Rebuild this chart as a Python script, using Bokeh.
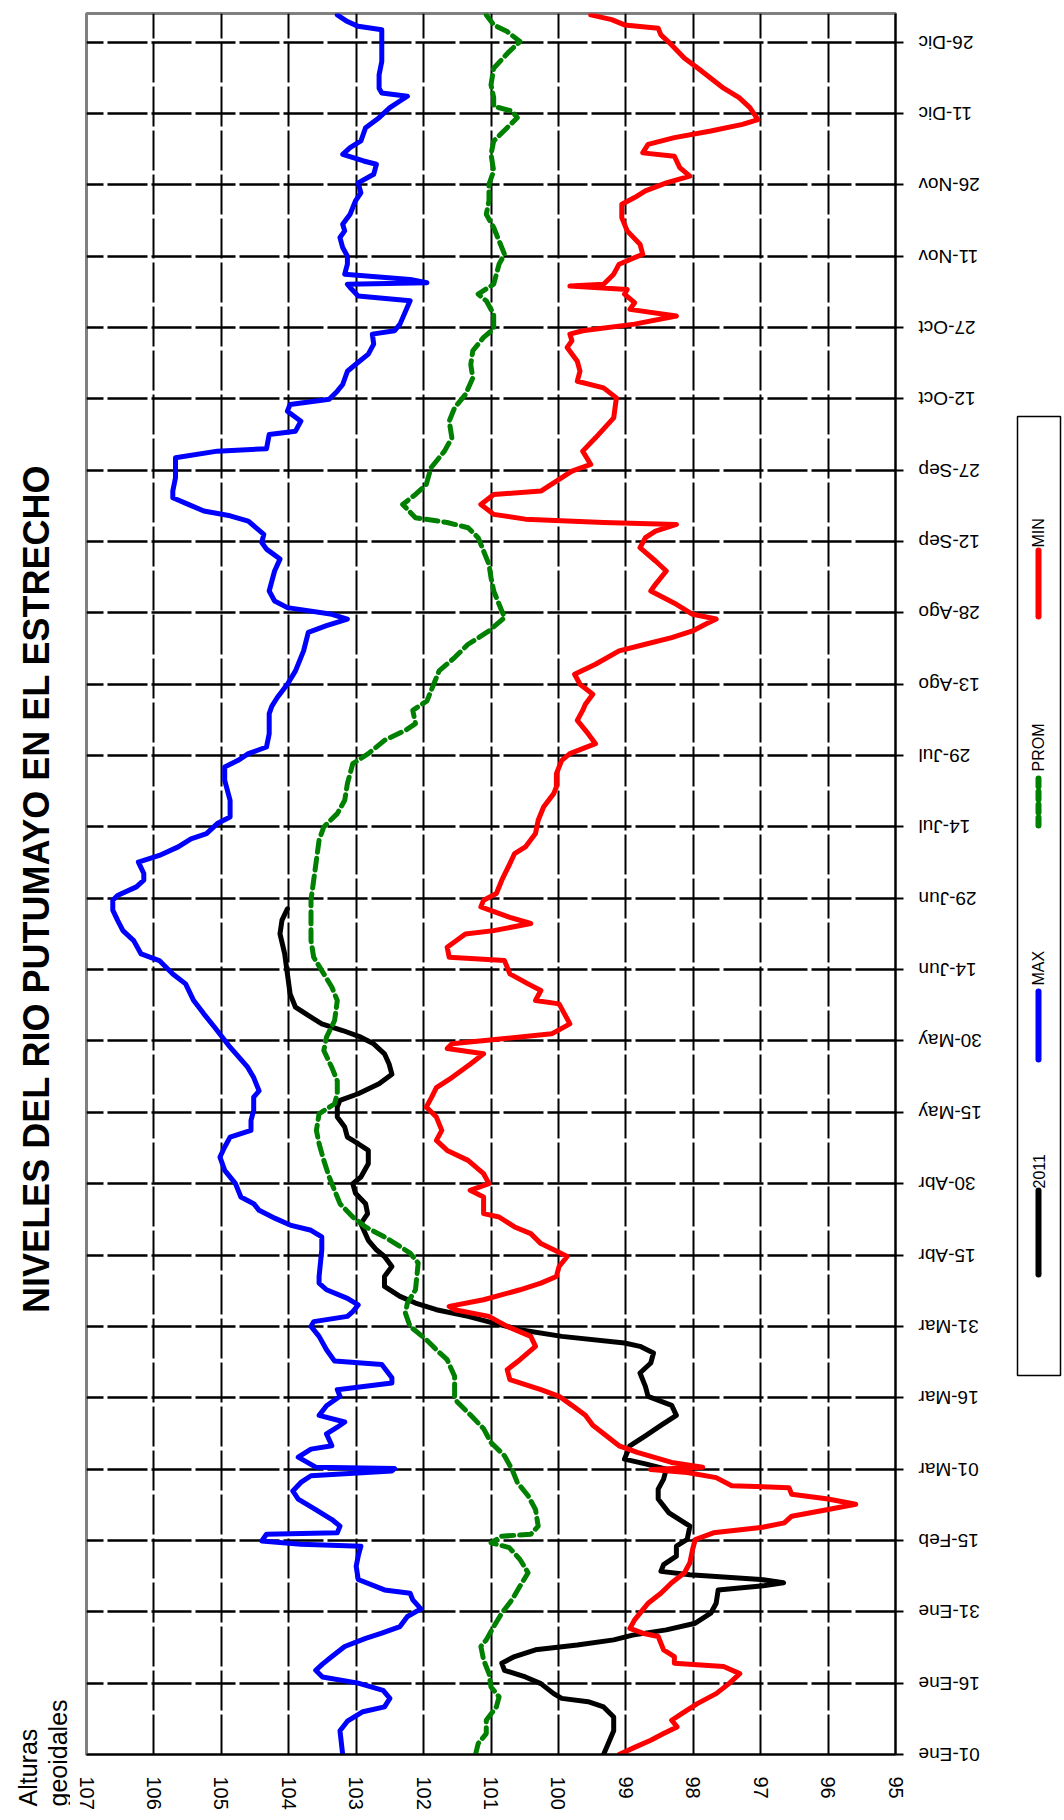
import math
from bokeh.plotting import figure
from bokeh.models import Range1d, FixedTicker
from bokeh.layouts import row, column
from bokeh.embed import file_html
from bokeh.resources import INLINE
from bokeh.core.properties import value

FONT = "Liberation Sans"

# ---------------- data ----------------
title_text = "NIVELES DEL RIO PUTUMAYO EN EL ESTRECHO"
axis_title = ["Alturas", "geoidales"]
value_ticks = [107, 106, 105, 104, 103, 102, 101, 100, 99, 98, 97, 96, 95]
day_ticks = list(range(0, 361, 15))
day_labels = ["01-Ene", "16-Ene", "31-Ene", "15-Feb", "01-Mar", "16-Mar", "31-Mar",
              "15-Abr", "30-Abr", "15-May", "30-May", "14-Jun", "29-Jun", "14-Jul",
              "29-Jul", "13-Ago", "28-Ago", "12-Sep", "27-Sep", "12-Oct", "27-Oct",
              "11-Nov", "26-Nov", "11-Dic", "26-Dic"]

max_days = [0, 5, 7, 9, 10, 11.8, 13.5, 15, 16.3, 17.7, 19, 20.6, 22.7, 24.4, 25.5, 26.9, 29, 30.6,
            32.5, 33.9, 34.6, 36.8, 39.6, 41.7, 43.8, 44.2, 44.9, 46.3, 46.6, 48, 49.4, 51.5, 53.7,
            55.4, 57.2, 58.6, 59.6, 60.1, 60.4, 62.5, 64.2, 64.9, 67.4, 68.8, 69.9, 71.3, 73.3, 75.3,
            76.7, 78.1, 79.2, 82, 82.7, 85.1, 87.9, 90, 91, 92.1, 93.1, 94.5, 95.9, 97.7, 99.1, 100.5,
            106.1, 108.8, 110.2, 111.3, 112.7, 114.4, 115.8, 117.2, 120, 122.8, 125.6, 127.7, 129.8,
            131.2, 133.3, 135.4, 138.2, 139.5, 142.3, 144.5, 148.7, 152.9, 155.7, 158.5, 162, 164.1,
            166.9, 168.3, 171.1, 173.2, 175.4, 177.5, 179.6, 180.6, 182.4, 183.8, 185.2, 187.6, 189,
            190.8, 192.5, 193.6, 195.7, 197.1, 200.6, 204.8, 207.6, 209, 210.4, 211.8, 214.6, 218.8,
            220.4, 222.2, 225, 227.8, 232, 235.9, 237.3, 238.7, 239.7, 241.1, 242.5, 244.6, 246.7,
            248.8, 251.3, 253.4, 254.8, 256.5, 259.3, 260.4, 261.4, 262.8, 264.2, 265.6, 268.4, 272.6,
            274, 274.5, 277.5, 278.2, 280.3, 282.4, 283.8, 284.9, 286.6, 288, 290.8, 292.2, 294.4,
            296.5, 298.6, 299.3, 300.7, 305.6, 306.6, 308.4, 309.1, 309.4, 310.1, 311.2, 313.3, 315,
            316.8, 318.9, 320.3, 321.7, 323.8, 326.6, 328.3, 330.4, 332.2, 334.3, 335, 336.4, 337.8,
            339.2, 342, 344.1, 346.2, 347.6, 348.6, 349.3, 350.3, 353.1, 355.9, 362.6, 363.3, 364.3,
            365.7]
max_vals = [103.2, 103.24, 103.13, 102.9, 102.58, 102.5, 102.6, 102.97, 103.5, 103.6, 103.5, 103.36,
            103.17, 102.86, 102.62, 102.35, 102.24, 102.04, 102.16, 102.2, 102.58, 102.97, 103.0,
            102.97, 102.93, 103.82, 104.4, 104.33, 103.28, 103.24, 103.36, 103.6, 103.86, 103.94,
            103.82, 103.67, 102.47, 102.43, 103.6, 103.86, 103.67, 103.36, 103.44, 103.28, 103.17,
            103.55, 103.44, 103.24, 103.28, 102.47, 102.47, 102.62, 103.32, 103.44, 103.55, 103.67,
            103.63, 103.13, 103.05, 102.97, 103.13, 103.44, 103.55, 103.55, 103.51, 103.51, 103.67,
            103.98, 104.2, 104.44, 104.52, 104.71, 104.79, 104.95, 105.02, 104.95, 104.87, 104.56,
            104.56, 104.52, 104.52, 104.44, 104.52, 104.61, 104.87, 105.1, 105.26, 105.41, 105.53,
            105.72, 105.92, 106.19, 106.3, 106.46, 106.54, 106.61, 106.61, 106.54, 106.26, 106.15,
            106.15, 106.23, 105.92, 105.64, 105.45, 105.22, 105.06, 104.87, 104.87, 104.95, 104.95,
            104.75, 104.6, 104.33, 104.29, 104.29, 104.25, 104.17, 104.02, 103.9, 103.78, 103.71,
            103.44, 103.13, 103.36, 104.02, 104.21, 104.29, 104.25, 104.21, 104.13, 104.33, 104.4,
            104.37, 104.6, 104.87, 105.26, 105.49, 105.72, 105.72, 105.68, 105.68, 105.06, 104.33,
            104.29, 103.9, 103.82, 104.02, 103.98, 103.4, 103.28, 103.2, 103.13, 103.01, 102.82,
            102.74, 102.76, 102.43, 102.35, 102.2, 102.97, 103.09, 103.13, 101.95, 102.2, 103.17,
            103.13, 103.13, 103.2, 103.24, 103.17, 103.2, 103.09, 103.01, 102.93, 102.97, 102.74,
            102.7, 102.89, 103.2, 103.09, 102.93, 102.86, 102.66, 102.5, 102.35, 102.24, 102.62,
            102.66, 102.66, 102.62, 102.62, 102.97, 103.13, 103.28]

prom_days = [0, 2.3, 4.4, 7.2, 10, 12.1, 14.2, 17, 19.9, 22.7, 24.1, 26.9, 29.7, 32.5, 35.4, 38.2, 41,
             43.5, 44.5, 45.9, 46.3, 48, 51.5, 54.4, 57.2, 60, 62.8, 65.6, 68.5, 71.3, 74.1, 75.3,
             79.5, 83, 85.1, 87.2, 90, 92.8, 94.9, 97.7, 100.5, 103.3, 105.4, 106.8, 108.8, 110.9,
             113, 115.8, 118.6, 121.4, 124.9, 128.4, 131.2, 134.7, 136.8, 138.9, 141.6, 144.4, 148,
             150.8, 154.3, 158.5, 161.3, 164.1, 167.6, 171.1, 176, 179.6, 183.8, 188, 192.2, 195,
             197.8, 200.6, 204.1, 208.3, 210.4, 213.2, 215.3, 216.7, 219.5, 221.5, 225, 227.8, 230.6,
             233.4, 236.2, 239, 241.8, 244.6, 247.4, 250.2, 253, 255.8, 257.9, 259, 260, 262.8, 264.9,
             267, 270.5, 274, 276.8, 280.3, 283.1, 285.9, 289.4, 292.2, 295.1, 297.9, 299.7, 302.8,
             305.6, 307, 309.1, 311.2, 313.3, 315.4, 318.2, 321, 323.8, 326.6, 330.1, 332.9, 336.4,
             339.2, 342, 344.1, 345.5, 346.5, 348.3, 351, 354.5, 358, 360.1, 362.2, 363.6, 365.7]
prom_vals = [101.23, 101.19, 101.07, 101.07, 100.92, 100.88, 101.0, 101.03, 101.11, 101.15, 101.07,
             100.96, 100.84, 100.69, 100.57, 100.45, 100.57, 100.73, 101.0, 100.84, 100.41, 100.3,
             100.34, 100.45, 100.61, 100.69, 100.8, 101.0, 101.11, 101.3, 101.5, 101.54, 101.54,
             101.65, 101.81, 101.96, 102.2, 102.27, 102.24, 102.12, 102.1, 102.08, 102.2, 102.35,
             102.58, 102.86, 103.05, 103.24, 103.32, 103.4, 103.48, 103.55, 103.59, 103.55, 103.32,
             103.28, 103.28, 103.36, 103.48, 103.44, 103.32, 103.28, 103.36, 103.48, 103.63, 103.67,
             103.67, 103.67, 103.63, 103.59, 103.55, 103.48, 103.28, 103.17, 103.13, 103.05, 102.82,
             102.58, 102.27, 102.12, 102.16, 101.95, 101.85, 101.77, 101.54, 101.34, 101.03, 100.8,
             100.88, 100.96, 101.0, 101.03, 101.11, 101.19, 101.34, 101.65, 102.12, 102.31, 102.12,
             101.96, 101.89, 101.69, 101.58, 101.62, 101.54, 101.38, 101.27, 101.3, 101.27, 101.11,
             100.96, 100.96, 101.07, 101.19, 100.96, 100.92, 100.88, 100.8, 100.88, 100.96, 101.07,
             101.03, 101.03, 100.96, 101.0, 100.96, 100.76, 100.61, 100.69, 100.96, 100.96, 101.0,
             100.96, 100.73, 100.57, 100.76, 100.96, 101.07]

min_days = [0, 1.5, 3, 4.4, 5.8, 7.2, 8.6, 10.7, 12.8, 14.9, 17, 18.5, 19.2, 20.6, 22, 24.8, 25.5,
            26.5, 28.3, 30.4, 31.8, 33.9, 36.1, 38.2, 40.3, 43.1, 45.2, 46.6, 47.7, 48.7, 50.1, 51.5,
            52.6, 53.7, 54.7, 56.1, 56.5, 58.2, 59.3, 59.9, 60.4, 61.4, 63.5, 64.9, 67, 69.2, 71.3,
            73.4, 75.3, 76.7, 78.8, 80.9, 83, 85.8, 87.9, 90, 92.1, 93.5, 94.2, 95.6, 97.7, 99.1,
            100.5, 102.6, 104.7, 106.1, 107.4, 109.5, 110.9, 113, 113.7, 117.2, 118.6, 120, 122.1,
            124.9, 127, 129.1, 131.2, 134, 136.1, 138.2, 140.2, 142.3, 145.1, 147.3, 148.4, 149.4,
            151.5, 153.6, 155.7, 157.8, 158.5, 160.6, 162, 164.1, 166.9, 167.6, 169.7, 172.5, 173.2,
            174.7, 176, 178.2, 179.6, 181, 183.8, 187.3, 189.4, 190.8, 193.6, 196.4, 199.2, 202,
            203.4, 206.2, 209, 210.4, 212.5, 214.6, 217.4, 219.5, 220.8, 222.9, 225, 227.1, 229.2,
            232, 233.4, 234.8, 236.2, 237.6, 238.7, 239.7, 241.8, 244.6, 246, 248.8, 250.9, 253.7,
            255.8, 257.2, 258.6, 259, 259.7, 260.7, 262.8, 264.9, 265.6, 267.7, 269.8, 271.2, 274,
            276.8, 281, 285.2, 287.3, 288.7, 290.8, 292.9, 295.8, 297.2, 298.6, 299.3, 300.7, 302.4,
            303.8, 305.2, 307, 308, 308.7, 309.1, 311.2, 313.3, 315.4, 317.5, 320.3, 323.1, 325.9,
            327.3, 328.7, 330.4, 331.8, 333.6, 336, 336.7, 338.5, 339.9, 341.3, 342.7, 343.7, 346.2,
            348.3, 350.3, 352.4, 354.5, 356.6, 359.4, 361.5, 362.9, 363.6, 364.7, 365.7]
min_vals = [99.1, 98.87, 98.63, 98.44, 98.24, 98.32, 98.17, 97.94, 97.66, 97.47, 97.31, 97.55, 98.28,
            98.28, 98.44, 98.52, 98.75, 98.94, 98.87, 98.75, 98.67, 98.48, 98.32, 98.13, 98.05, 98.01,
            97.97, 97.7, 97.0, 96.65, 96.54, 96.0, 95.59, 96.0, 96.54, 96.58, 97.43, 97.66, 98.09,
            98.63, 97.86, 98.32, 98.83, 99.1, 99.29, 99.49, 99.6, 99.8, 99.99, 100.26, 100.72, 100.76,
            100.57, 100.34, 100.41, 100.76, 101.03, 101.54, 101.62, 101.11, 100.57, 100.26, 100.03,
            99.99, 99.87, 100.07, 100.26, 100.41, 100.65, 100.88, 101.11, 101.11, 101.31, 101.03,
            101.11, 101.34, 101.65, 101.81, 101.73, 101.81, 101.96, 101.88, 101.81, 101.58, 101.31,
            101.11, 101.65, 101.58, 100.1, 99.83, 99.91, 99.99, 100.34, 100.26, 100.45, 100.72, 100.8,
            101.62, 101.65, 101.38, 100.96, 100.41, 100.72, 101.15, 101.11, 100.92, 100.84, 100.72,
            100.65, 100.49, 100.34, 100.3, 100.22, 100.07, 100.03, 100.03, 99.95, 99.83, 99.45, 99.56,
            99.72, 99.64, 99.6, 99.49, 99.68, 99.76, 99.45, 99.1, 98.71, 98.32, 98.01, 97.82, 97.66,
            98.01, 98.25, 98.63, 98.56, 98.4, 98.56, 98.79, 98.71, 98.56, 98.25, 99.33, 100.49,
            100.96, 101.15, 100.96, 100.26, 100.03, 99.8, 99.52, 99.64, 99.45, 99.18, 99.14, 99.33,
            99.72, 99.68, 99.72, 99.87, 99.8, 99.83, 99.64, 98.87, 98.25, 98.94, 98.87, 99.02, 98.98,
            99.83, 99.33, 99.18, 99.1, 98.75, 98.79, 98.98, 99.06, 99.06, 98.87, 98.71, 98.4, 98.05,
            98.2, 98.28, 98.75, 98.67, 98.28, 97.74, 97.27, 97.04, 97.16, 97.32, 97.55, 97.74, 97.93,
            98.13, 98.32, 98.48, 98.52, 99.02, 99.21, 99.52]

y2011_days = [0, 3, 5, 7.9, 10, 11.1, 11.8, 12.8, 14.9, 16.3, 17.7, 19.2, 20.6, 22, 23, 24.1, 25.1,
              26.2, 27.6, 29.7, 31.8, 34.6, 35.4, 36.1, 36.8, 37.8, 38.5, 39.9, 41.7, 43.8, 45.2, 48,
              50.8, 53.7, 55.8, 57.9, 60, 61.1, 62.1, 63.5, 64.9, 67, 69.2, 71.3, 73.4, 75.3, 77.4,
              80.2, 82.3, 84.4, 85.8, 86.5, 87.9, 89.3, 90.7, 92.1, 93.5, 94.9, 96.3, 98.4, 100.5,
              102.6, 104.7, 106.1, 108.1, 111.6, 113.7, 115.8, 118, 120, 121.4, 124.2, 127, 128.4,
              129.8, 131.9, 134, 136.1, 137.5, 138.9, 141, 143, 145.1, 147.3, 149.4, 150.8, 152.2,
              153.6, 155, 157.1, 159.9, 164.1, 168.3, 172.5, 175.4, 177.8]
y2011_vals = [99.33, 99.24, 99.18, 99.18, 99.33, 99.56, 99.95, 100.07, 100.26, 100.49, 100.8, 100.84,
              100.65, 100.34, 99.72, 99.18, 98.9, 98.4, 97.97, 97.74, 97.66, 97.63, 97.0, 96.66, 97.0,
              98.05, 98.48, 98.44, 98.25, 98.25, 98.09, 98.05, 98.36, 98.52, 98.52, 98.44, 98.4,
              98.71, 99.02, 98.98, 98.94, 98.71, 98.48, 98.25, 98.32, 98.67, 98.71, 98.79, 98.63,
              98.59, 98.79, 99.02, 99.95, 100.57, 100.96, 101.34, 101.81, 102.12, 102.35, 102.58,
              102.58, 102.47, 102.58, 102.7, 102.82, 102.93, 102.83, 102.86, 103.01, 103.05, 102.93,
              102.82, 102.82, 102.97, 103.13, 103.17, 103.28, 103.28, 103.24, 102.97, 102.66, 102.47,
              102.51, 102.58, 102.74, 102.93, 103.2, 103.51, 103.67, 103.9, 103.98, 104.02, 104.06,
              104.13, 104.1, 104.02]

series_names = ["2011", "MAX", "PROM", "MIN"]
series_colors = ["#000000", "#0000FF", "#008000", "#FF0000"]
series_dash = ["solid", "solid", "12 6", "solid"]
series_days = [y2011_days, max_days, prom_days, min_days]
series_vals = [y2011_vals, max_vals, prom_vals, min_vals]

# ---------------- layout constants (page pixels) ----------------
H = 1815
FRAME_TOP, FRAME_BOT = 13, 1754
DAY_MAX = 366
LEFT_W = 70                 # left panels: title (top) + axis title (bottom)
LEFT_TOP_H = 1650
TITLE_CENTER_Y = 888
MAIN_W = 837                # main plot (frame 86..895)
RIGHT_W = 1064 - LEFT_W - MAIN_W   # right panel: date labels + legend
BORDER_L, BORDER_R = 16, 12
PX_PER_DAY = (FRAME_BOT - FRAME_TOP) / DAY_MAX


def blank(fig):
    fig.background_fill_color = "white"
    fig.border_fill_color = "white"
    fig.grid.visible = False
    fig.outline_line_color = None
    return fig

# ---------------- main chart ----------------
p = figure(width=MAIN_W, height=H,
           x_range=Range1d(107, 95), y_range=Range1d(0, DAY_MAX),
           output_backend="svg", toolbar_location=None,
           y_axis_location="right", x_axis_location="below",
           min_border_left=BORDER_L, min_border_right=BORDER_R,
           min_border_top=FRAME_TOP, min_border_bottom=H - FRAME_BOT)
p.background_fill_color = "white"
p.border_fill_color = "white"
p.outline_line_color = "#808080"
p.outline_line_width = 3

xa = p.xaxis[0]
xa.ticker = FixedTicker(ticks=value_ticks)
xa.major_label_orientation = "vertical"
xa.major_tick_out = 0
xa.major_tick_in = 0
xa.minor_tick_out = 0
xa.minor_tick_in = 0
xa.major_label_standoff = 22
xa.axis_line_color = "black"
xa.axis_line_width = 2
xa.major_label_text_font = FONT
xa.major_label_text_font_size = "20px"
xa.major_label_text_color = "black"

ya = p.yaxis[0]
ya.ticker = FixedTicker(ticks=day_ticks)
ya.major_label_overrides = {d: "" for d in day_ticks}   # labels drawn upside-down in right panel
ya.major_tick_out = 8
ya.major_tick_in = 0
ya.minor_tick_out = 0
ya.minor_tick_in = 0
ya.major_tick_line_width = 2
ya.major_tick_line_color = "black"
ya.major_label_standoff = 0
ya.axis_line_color = "black"
ya.axis_line_width = 2

p.xgrid[0].ticker = FixedTicker(ticks=value_ticks)
p.ygrid[0].ticker = FixedTicker(ticks=day_ticks)
p.xgrid[0].grid_line_width = 2
p.ygrid[0].grid_line_width = 2.5
for g in (p.xgrid[0], p.ygrid[0]):
    g.grid_line_color = "black"
    g.grid_line_dash = "40 4"

for name, col, dash, d, v in zip(series_names, series_colors, series_dash, series_days, series_vals):
    p.line(x=v, y=d, line_color=col, line_width=5, line_dash=dash,
           line_join="round", line_cap="round")

# ---------------- left top: chart title ----------------
lt = figure(width=LEFT_W, height=LEFT_TOP_H, output_backend="svg", toolbar_location=None,
            x_range=Range1d(0, 1), y_range=Range1d(0, 1),
            x_axis_location=None, y_axis_location=None,
            title=title_text, title_location="left",
            min_border_left=60, min_border_right=0,
            min_border_top=2 * TITLE_CENTER_Y - LEFT_TOP_H, min_border_bottom=0)
blank(lt)
lt.title.text_font = FONT
lt.title.text_font_size = "36px"
lt.title.text_font_style = "bold"
lt.title.text_color = "black"
lt.title.align = "center"
lt.title.standoff = 8

# ---------------- left bottom: axis title ----------------
LB_H = H - LEFT_TOP_H
lb = figure(width=LEFT_W, height=LB_H, x_range=Range1d(0, LEFT_W), y_range=Range1d(0, LB_H),
            output_backend="svg", toolbar_location=None,
            x_axis_location=None, y_axis_location=None,
            min_border_left=0, min_border_right=0, min_border_top=0, min_border_bottom=0)
blank(lb)
lb.text(x=[27, 57], y=[H - 1806, H - 1806], text=axis_title, angle=math.pi / 2,
        text_align="left", text_baseline="alphabetic",
        text_font=value(FONT), text_font_size="25px", text_color="black")

# ---------------- right panel: date labels (upside down) + legend ----------------
right = figure(width=RIGHT_W, height=H, x_range=Range1d(0, RIGHT_W),
               y_range=Range1d(-(H - FRAME_BOT) / PX_PER_DAY, DAY_MAX + FRAME_TOP / PX_PER_DAY),
               output_backend="svg", toolbar_location=None,
               x_axis_location=None, y_axis_location=None,
               min_border_left=0, min_border_right=0, min_border_top=0, min_border_bottom=0)
blank(right)
right.extra_y_ranges = {"px": Range1d(0, H)}

PAGE_X0 = LEFT_W + MAIN_W
right.text(x=[918 - PAGE_X0] * len(day_ticks), y=day_ticks, text=day_labels,
           angle=math.pi, text_align="right", text_baseline="middle",
           text_font=value(FONT), text_font_size="19px", text_color="black")


def ly(page_y):
    return H - page_y

# legend (top->bottom in page): MIN, PROM, MAX, 2011
leg_order = [3, 2, 1, 0]
leg_line_top = [550, 778, 991, 1190]
leg_line_bot = [616, 827, 1059, 1274]
leg_text_start = [547, 771, 985, 1188]
leg_x = 1038 - PAGE_X0

right.quad(left=[1017 - PAGE_X0], right=[1060 - PAGE_X0], top=[ly(416)], bottom=[ly(1375)],
           fill_color=None, line_color="black", line_width=1.5, y_range_name="px")

for k, idx in enumerate(leg_order):
    right.line(x=[leg_x, leg_x], y=[ly(leg_line_top[k]), ly(leg_line_bot[k])],
               line_color=series_colors[idx], line_width=6,
               line_dash=("8 5" if series_dash[idx] != "solid" else "solid"),
               line_cap="round", y_range_name="px")
    right.text(x=[leg_x], y=[ly(leg_text_start[k])], text=[series_names[idx]],
               angle=math.pi / 2, text_align="left", text_baseline="middle",
               text_font=value(FONT), text_font_size="16px", text_color="black",
               y_range_name="px")

# nested single-child columns keep Bokeh from aligning the panels' borders with the main plot
layout = row(column(column(lt), column(lb)), p, column(right))
open("out.html", "w").write(file_html(layout, INLINE))
